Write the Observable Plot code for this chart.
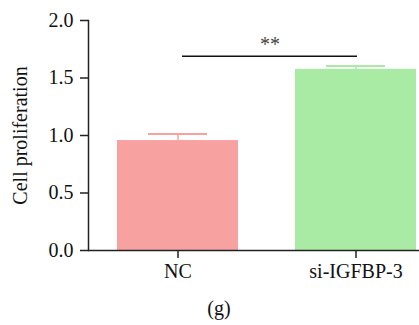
<!DOCTYPE html>
<html><head>
<meta charset="utf-8">
<script src="https://cdn.jsdelivr.net/npm/d3@7"></script>
<script src="https://cdn.jsdelivr.net/npm/@observablehq/plot@0.6"></script>
<style>body{margin:0;background:#fff}</style>
</head><body><div id="chart"></div>
<script>
const categories = ["NC", "si-IGFBP-3"];
const values = [0.956, 1.575];
const errors = [0.056, 0.029];
const colors = ["#F8A1A1", "#A9EAA4"];
const yTicks = [0, 0.5, 1.0, 1.5, 2.0];
const sigLevel = 1.69;
const sigLabel = "**";
const yLabel = "Cell proliferation";
const caption = "(g)";

const data = categories.map((c, i) => ({cat: c, v: values[i], e: values[i] + errors[i], color: colors[i]}));
const sig = [{y: sigLevel, a: categories[0], b: categories[1], t: sigLabel}];

const plot = Plot.plot({
  width: 419, height: 325,
  marginLeft: 88, marginRight: 0, marginTop: 20, marginBottom: 75,
  style: {fontFamily: "'Liberation Serif', 'Times New Roman', serif", fontSize: "20px", color: "#111", background: "#fff"},
  x: {domain: categories, paddingInner: 0.318, paddingOuter: 0.0836, align: 0.93, label: null},
  y: {domain: [0, 2], label: null},
  color: {type: "identity"},
  marks: [
    Plot.barY(data, {x: "cat", y: "v", fill: "color"}),
    Plot.ruleX(data, {x: "cat", y1: "v", y2: "e", stroke: "color", strokeWidth: 1.5}),
    Plot.tickY(data, {x: "cat", y: "e", stroke: "color", strokeWidth: 2, insetLeft: 31, insetRight: 31}),
    Plot.ruleY([0], {stroke: "#222", strokeWidth: 1.5}),
    Plot.frame({anchor: "left", stroke: "#222", strokeWidth: 1.5}),
    Plot.axisY({ticks: yTicks, tickFormat: ".1f", tickSize: 8, tickPadding: 7, label: null, stroke: "#222", strokeWidth: 1.5, fill: "#111", fontSize: 20}),
    Plot.axisX({tickSize: 8, tickPadding: 5, label: null, stroke: "#222", strokeWidth: 1.5, fill: "#111", fontSize: 20}),
    Plot.text([yLabel], {frameAnchor: "left", textAnchor: "middle", rotate: -90, dx: -68, fill: "#111", fontSize: 20}),
    Plot.ruleY(sig, {y: "y", x1: "a", x2: "b", insetLeft: 65, insetRight: 59, stroke: "#111", strokeWidth: 1.5}),
    Plot.text(sig, {x: "a", y: "y", text: "t", dx: 92, dy: -12, fill: "#444", fontSize: 20}),
    Plot.text([caption], {frameAnchor: "bottom", dx: -35, dy: 64, fill: "#111", fontSize: 20})
  ]
});
document.getElementById("chart").append(plot);
</script>
</body></html>
